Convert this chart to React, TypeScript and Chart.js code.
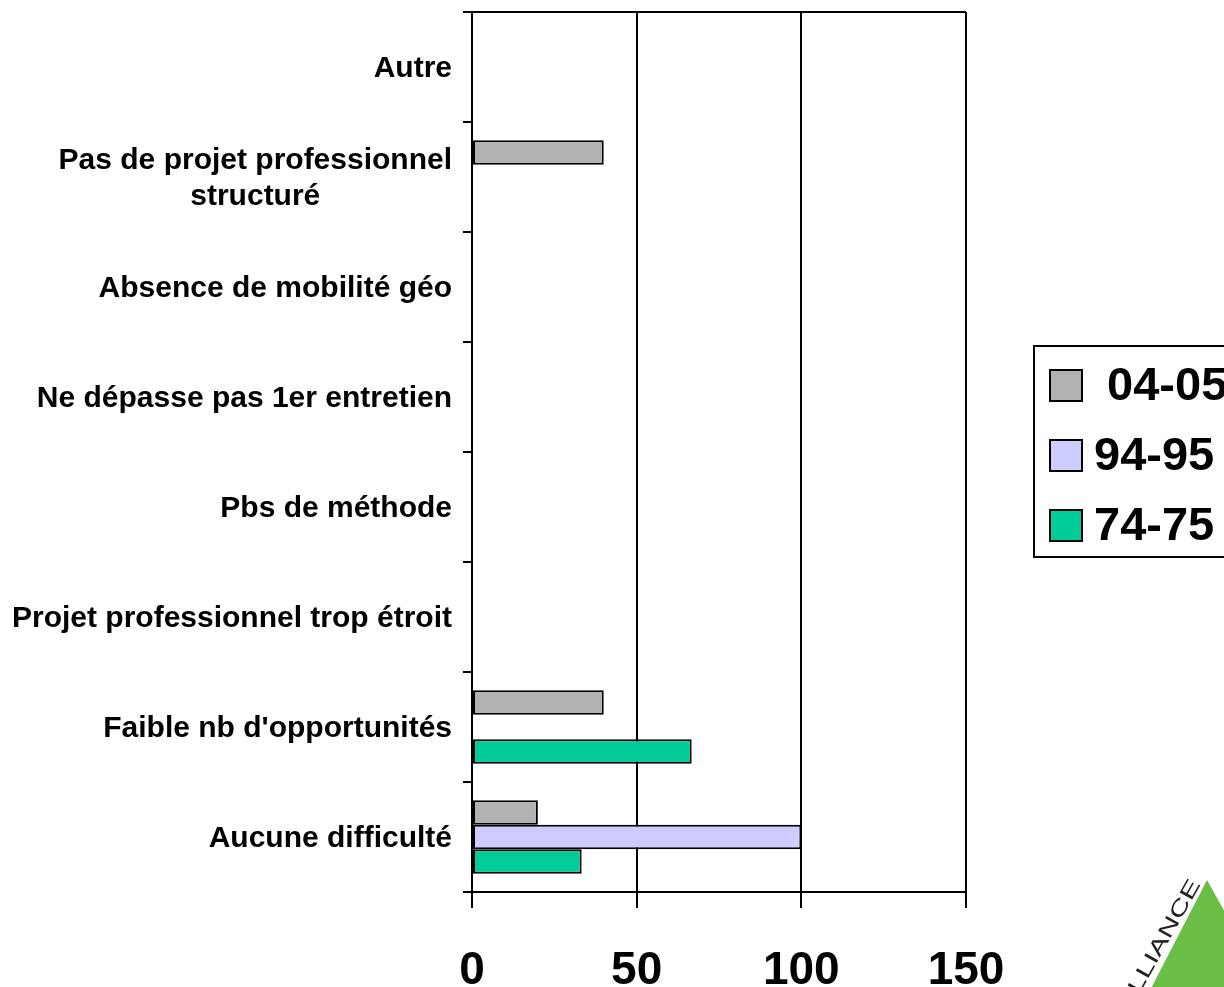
import React, { useEffect, useRef } from "react";
import { Chart, registerables } from "chart.js";

Chart.register(...registerables);

const categories: (string | string[])[] = [
  "Autre",
  ["Pas de projet professionnel", "structuré"],
  "Absence de mobilité géo",
  "Ne dépasse pas 1er entretien",
  "Pbs de méthode",
  "Projet professionnel trop étroit",
  "Faible nb d'opportunités",
  "Aucune difficulté",
];
const seriesLabels = [" 04-05", "94-95", "74-75"];
const values0405 = [0, 40, 0, 0, 0, 0, 40, 20];
const values9495 = [0, 0, 0, 0, 0, 0, 0, 100];
const values7475 = [0, 0, 0, 0, 0, 0, 66.7, 33.3];
const seriesColors = ["#b2b2b2", "#ccccff", "#00cc99"];
const xMin = 0;
const xMax = 150;
const xStep = 50;
const logoText = "ALLIANCE";

const FAMILY = '"Liberation Sans", Arial, Helvetica, sans-serif';

const overlayPlugin = {
  id: "overlay",
  afterDraw(chart: any) {
    const ctx: CanvasRenderingContext2D = chart.ctx;
    const area = chart.chartArea;
    const yScale = chart.scales.y;
    ctx.save();
    // top border of plot area
    ctx.strokeStyle = "#000";
    ctx.lineWidth = 2;
    ctx.beginPath();
    ctx.moveTo(area.left, area.top);
    ctx.lineTo(area.right, area.top);
    ctx.stroke();

    // category labels
    ctx.fillStyle = "#000";
    ctx.font = `bold 30px ${FAMILY}`;
    ctx.textBaseline = "middle";
    const labelRight = area.left - 20;
    const lineGap = 36;
    chart.data.labels.forEach((lab: string | string[], i: number) => {
      const yc = yScale.getPixelForValue(i) + 2;
      const lines = Array.isArray(lab) ? lab : [lab];
      if (lines.length === 1) {
        ctx.textAlign = "right";
        ctx.fillText(lines[0], labelRight, yc);
      } else {
        const maxW = Math.max(...lines.map((l) => ctx.measureText(l).width));
        const cx = labelRight - maxW / 2;
        ctx.textAlign = "center";
        lines.forEach((l, j) => {
          ctx.fillText(l, cx, yc + (j - (lines.length - 1) / 2) * lineGap);
        });
      }
    });

    // legend
    const lx = 1034;
    const ly = 346;
    ctx.lineWidth = 2;
    ctx.strokeStyle = "#000";
    ctx.strokeRect(lx, ly, 300, 211);
    ctx.font = `bold 47px ${FAMILY}`;
    ctx.textAlign = "left";
    ctx.textBaseline = "middle";
    chart.data.datasets.forEach((ds: any, k: number) => {
      const sy = 370 + k * 70;
      ctx.fillStyle = ds.backgroundColor;
      ctx.fillRect(1050, sy, 32, 31);
      ctx.strokeRect(1050, sy, 32, 31);
      ctx.fillStyle = "#000";
      ctx.fillText(ds.label, 1094, sy + 17);
    });

    // logo
    ctx.fillStyle = "#6abd45";
    ctx.beginPath();
    ctx.moveTo(1207, 880);
    ctx.lineTo(1260, 975);
    ctx.lineTo(1260, 1000);
    ctx.lineTo(1145, 1000);
    ctx.closePath();
    ctx.fill();
    const ang = Math.atan2(-107, 60);
    ctx.save();
    ctx.translate(1201, 884);
    ctx.rotate(ang);
    ctx.scale(1.45, 1);
    ctx.fillStyle = "#222";
    ctx.font = `21px ${FAMILY}`;
    ctx.textAlign = "right";
    ctx.textBaseline = "alphabetic";
    ctx.fillText(logoText, 0, 0);
    ctx.restore();

    ctx.restore();
  },
};

export default function App() {
  const ref = useRef<HTMLCanvasElement | null>(null);
  useEffect(() => {
    if (!ref.current) return;
    const chart = new Chart(ref.current, {
      type: "bar",
      data: {
        labels: categories as any,
        datasets: [
          { label: seriesLabels[0], data: values0405, backgroundColor: seriesColors[0] },
          { label: seriesLabels[1], data: values9495, backgroundColor: seriesColors[1] },
          { label: seriesLabels[2], data: values7475, backgroundColor: seriesColors[2] },
        ].map((d) => ({
          ...d,
          borderColor: "#000",
          borderWidth: 2,
          borderSkipped: false,
          barPercentage: 1,
          categoryPercentage: 0.67,
        })),
      },
      options: {
        indexAxis: "y",
        animation: false,
        responsive: false,
        devicePixelRatio: 1,
        layout: { padding: { top: 12, right: 258, left: 0, bottom: 0 } },
        plugins: { legend: { display: false }, tooltip: { enabled: false } },
        scales: {
          x: {
            min: xMin,
            max: xMax,
            ticks: {
              stepSize: xStep,
              color: "#000",
              padding: 36,
              font: { size: 46, weight: "bold", family: FAMILY },
            },
            grid: { color: "#000", lineWidth: 2, tickLength: 16, drawTicks: true },
            border: { color: "#000", width: 2 },
            afterFit: (s: any) => {
              s.height = 95;
            },
          },
          y: {
            ticks: { display: false },
            grid: {
              offset: true,
              drawOnChartArea: false,
              drawTicks: true,
              tickLength: 9,
              color: "#000",
              lineWidth: 2,
            },
            border: { color: "#000", width: 2 },
            afterFit: (s: any) => {
              s.width = 472;
            },
          },
        },
      } as any,
      plugins: [overlayPlugin],
    });
    return () => chart.destroy();
  }, []);
  return (
    <div style={{ position: "absolute", left: 0, top: 0, width: 1224, height: 987, background: "#fff" }}>
      <canvas ref={ref} width={1224} height={987} style={{ display: "block" }} />
    </div>
  );
}
